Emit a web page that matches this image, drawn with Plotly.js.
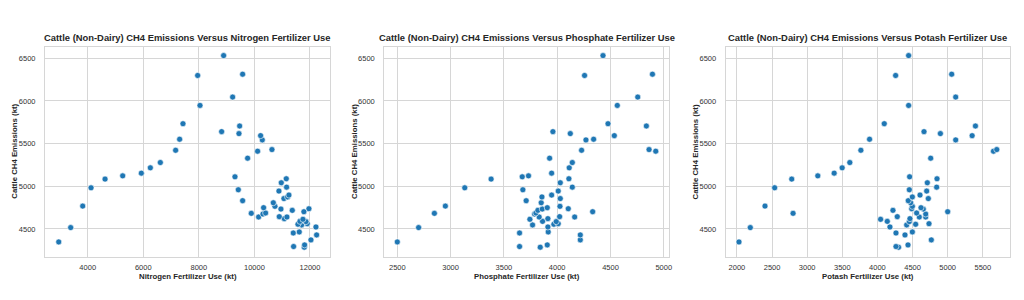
<!DOCTYPE html>
<html><head><meta charset="utf-8">
<script src="https://cdn.plot.ly/plotly-3.0.1.min.js"></script>
<style>html,body{margin:0;padding:0;background:#fff}#chart{width:1024px;height:300px}</style>
</head><body><div id="chart"></div>
<script>
const emissions = [4286,4294,4313,4348,4372,4430,4453,4465,4516,4523,4547,4555,4562,4586,4589,4613,4621,4640,4640,4644,4675,4683,4687,4702,4718,4733,4737,4749,4765,4768,4807,4831,4856,4875,4897,4944,4959,4982,4990,5041,5084,5088,5111,5122,5154,5216,5278,5329,5411,5422,5430,5543,5551,5593,5617,5640,5706,5733,5947,6045,6298,6313,6531];
const nitrogen = [11794,11410,11806,2957,12034,12238,11398,11614,3388,12214,11698,11566,11902,11854,11638,11746,11074,10151,11170,10894,10307,9887,10403,11781,11362,10954,11962,10331,10739,3820,10679,9576,11062,11194,11242,10882,9420,4120,11158,10966,4624,11146,9300,5259,5930,6254,6614,9755,10115,7165,10631,10283,7309,10223,9444,8820,9468,7429,8041,9216,7957,9576,8892];
const phosphate = [3841,3647,3907,2500,4217,4217,3647,3916,2700,3913,3769,3969,4010,3991,3863,3744,3913,4164,3831,4023,3788,2848,3800,4333,3819,3860,4104,3907,4026,2951,3850,3709,4029,3857,3948,4010,3678,3133,4142,4029,3380,4110,3672,3731,3948,4113,4142,3929,4925,4229,4862,4270,4342,4536,4123,3960,4837,4477,4564,4756,4257,4894,4430];
const potash = [4301,4264,4435,2029,4767,4392,4264,4497,2190,4178,4416,4544,4734,4454,4140,4045,4463,4687,4596,4282,4687,2799,4558,5000,4221,4653,4487,4620,4497,2399,4473,4439,4724,4497,4606,4701,4454,2537,4843,4710,2780,4848,4458,3151,3384,3498,3607,4758,5652,3764,5699,5114,3888,5348,4896,4663,5395,4097,4444,5114,4259,5057,4444];
const panelTitles = ["Cattle (Non-Dairy) CH4 Emissions Versus Nitrogen Fertilizer Use","Cattle (Non-Dairy) CH4 Emissions Versus Phosphate Fertilizer Use","Cattle (Non-Dairy) CH4 Emissions Versus Potash Fertilizer Use"];
const xLabels = ["Nitrogen Fertilizer Use (kt)","Phosphate Fertilizer Use (kt)","Potash Fertilizer Use (kt)"];
const yLabel = "Cattle CH4 Emissions (kt)";

(function () {
const W = 1024, H = 300;
const px = [[45,330],[384.3,669.3],[725.7,1010]];
const plotTop = 46.7, plotBot = 256.7;
const xRanges = [[2463,12720],[2378,5052],[1840,5887]];
const xDticks = [2000,500,500];
const xs = [nitrogen, phosphate, potash];

const FONT = 'Liberation Sans, Arial, sans-serif';
const TXT = '#262626';
const GRID = '#d6d6d6';

const data = [];
const layout = {
  width: W, height: H, margin: {l:0,r:0,t:0,b:0},
  paper_bgcolor: '#fff', plot_bgcolor: '#fff',
  showlegend: false, annotations: [],
  font: {family: FONT, color: TXT}
};
for (let i = 0; i < 3; i++) {
  const sfx = i === 0 ? '' : String(i+1);
  data.push({
    type: 'scatter', mode: 'markers', x: xs[i], y: emissions,
    xaxis: 'x' + sfx, yaxis: 'y' + sfx,
    marker: {color: '#1f77b4', size: 6, line: {color: '#fff', width: 0.6}},
    hoverinfo: 'skip'
  });
  const axBase = {
    showgrid: true, gridcolor: GRID, gridwidth: 1,
    showline: true, linecolor: GRID, linewidth: 1, mirror: true,
    zeroline: false, ticks: 'outside', ticklen: 3, tickcolor: 'rgba(0,0,0,0)',
    tickfont: {family: FONT, size: 7.5, color: '#333'}
  };
  layout['xaxis' + sfx] = Object.assign({}, axBase, {
    domain: [px[i][0]/W, px[i][1]/W], range: xRanges[i], dtick: xDticks[i],
    anchor: 'y' + sfx, tickformat: 'd'
  });
  layout['yaxis' + sfx] = Object.assign({}, axBase, {
    domain: [1 - plotBot/H, 1 - plotTop/H], range: [4175, 6635], dtick: 500,
    anchor: 'x' + sfx, tickformat: 'd', ticklen: 7
  });
  const cx = (px[i][0] + px[i][1]) / 2;
  layout.annotations.push({
    text: '<b>' + panelTitles[i] + '</b>', xref: 'paper', yref: 'paper',
    x: cx/W, y: 1 - 37.7/H, xanchor: 'center', yanchor: 'middle', showarrow: false,
    font: {family: FONT, size: 9.4, color: TXT}
  });
  layout.annotations.push({
    text: '<b>' + xLabels[i] + '</b>', xref: 'paper', yref: 'paper',
    x: cx/W, y: 1 - 276.7/H, xanchor: 'center', yanchor: 'middle', showarrow: false,
    font: {family: FONT, size: 7.8, color: TXT}
  });
  layout.annotations.push({
    text: '<b>' + yLabel + '</b>', xref: 'paper', yref: 'paper',
    x: (px[i][0] - 30)/W, y: 1 - ((plotTop+plotBot)/2)/H, xanchor: 'center', yanchor: 'middle',
    textangle: -90, showarrow: false,
    font: {family: FONT, size: 7.8, color: TXT}
  });
}
Plotly.newPlot('chart', data, layout, {staticPlot: true, displayModeBar: false});
})();
</script>
</body></html>
